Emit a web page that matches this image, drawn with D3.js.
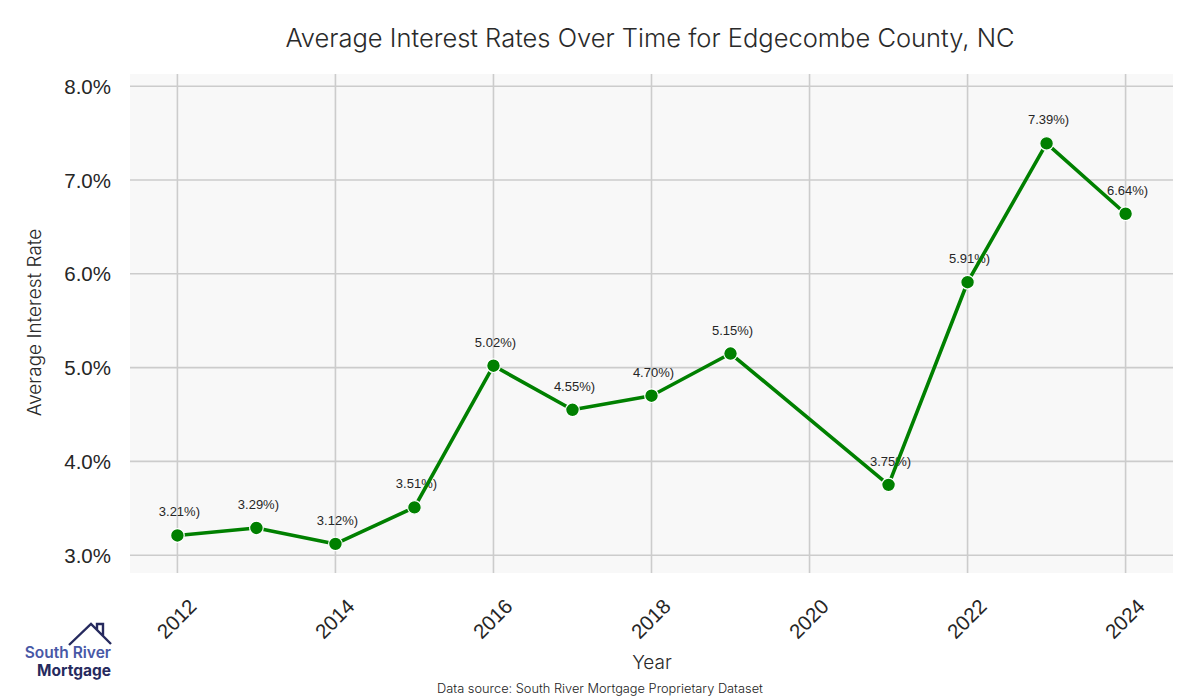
<!DOCTYPE html>
<html lang="en">
<head>
    <meta charset="UTF-8">
    <title>Average Interest Rates Over Time for Edgecombe County, NC</title>
    <script src="https://d3js.org/d3.v7.min.js"></script>
    <style>
        body { margin: 0; background: #fff; }
        svg { display: block; }
        .title { font-family: Inter, "Open Sans", sans-serif; font-size: 25.5px; font-weight: 300; fill: #2a2a2a; text-anchor: middle; }
        .axis-title { font-family: Inter, "Open Sans", sans-serif; font-size: 19px; font-weight: 300; fill: #2a2a2a; }
        .tick text { font-family: "Liberation Sans", Arial, sans-serif; font-size: 20.5px; fill: #262626; }
        .pt-label { font-family: "Liberation Sans", Arial, sans-serif; font-size: 13px; fill: #262626; text-anchor: middle; }
        .source { font-family: Inter, "Open Sans", sans-serif; font-size: 12.8px; font-weight: 300; fill: #222; text-anchor: middle; }
        .logo-text { font-family: Inter, sans-serif; font-size: 15.5px; text-anchor: end; }
    </style>
</head>
<body>
<svg id="chart" width="1200" height="700"></svg>
<script>
    // data
    const years = [2012, 2013, 2014, 2015, 2016, 2017, 2018, 2019, 2021, 2022, 2023, 2024];
    const rates = [3.21, 3.29, 3.12, 3.51, 5.02, 4.55, 4.70, 5.15, 3.75, 5.91, 7.39, 6.64];
    const yearTicks = [2012, 2014, 2016, 2018, 2020, 2022, 2024];
    const rateTicks = [3, 4, 5, 6, 7, 8];

    const data = years.map((y, i) => ({ year: y, rate: rates[i] }));

    const svg = d3.select("#chart");
    const margin = { top: 74, right: 27, bottom: 127, left: 130 };
    const width = 1200 - margin.left - margin.right;
    const height = 700 - margin.top - margin.bottom;

    const x = d3.scaleLinear().domain([2011.4, 2024.6]).range([0, width]);
    const y = d3.scaleLinear().domain([2.81, 8.13]).range([height, 0]);

    const g = svg.append("g").attr("transform", `translate(${margin.left},${margin.top})`);

    // panel background
    g.append("rect")
        .attr("width", width)
        .attr("height", height)
        .attr("fill", "#f8f8f8");

    // grid lines
    g.append("g").selectAll("line.v")
        .data(yearTicks).enter().append("line")
        .attr("x1", d => x(d)).attr("x2", d => x(d))
        .attr("y1", 0).attr("y2", height)
        .attr("stroke", "#cccccc").attr("stroke-width", 1.6);
    g.append("g").selectAll("line.h")
        .data(rateTicks).enter().append("line")
        .attr("y1", d => y(d)).attr("y2", d => y(d))
        .attr("x1", 0).attr("x2", width)
        .attr("stroke", "#cccccc").attr("stroke-width", 1.6);

    // y axis
    const yAxis = g.append("g")
        .call(d3.axisLeft(y).tickValues(rateTicks).tickFormat(d => d.toFixed(1) + "%").tickSize(0).tickPadding(19));
    yAxis.select(".domain").remove();
    yAxis.selectAll(".tick text").attr("dy", "0.35em");

    // x axis
    const xAxis = g.append("g")
        .attr("transform", `translate(0,${height})`)
        .call(d3.axisBottom(x).tickValues(yearTicks).tickFormat(d3.format("d")).tickSize(0));
    xAxis.select(".domain").remove();
    xAxis.selectAll(".tick text")
        .attr("y", 0).attr("dy", 0)
        .attr("text-anchor", "middle")
        .attr("transform", "translate(0,47) rotate(-45)")
        .attr("dominant-baseline", "middle");

    // axis titles
    svg.append("text")
        .attr("class", "axis-title")
        .attr("text-anchor", "middle")
        .attr("transform", `translate(41,${margin.top + height / 2 - 1}) rotate(-90)`)
        .text("Average Interest Rate");
    svg.append("text")
        .attr("class", "axis-title")
        .attr("text-anchor", "middle")
        .attr("x", 652).attr("y", 669)
        .text("Year");

    // title
    svg.append("text")
        .attr("class", "title")
        .attr("x", 650).attr("y", 47)
        .text("Average Interest Rates Over Time for Edgecombe County, NC");

    // value labels (drawn under the line)
    g.selectAll(".pt-label")
        .data(data).enter().append("text")
        .attr("class", "pt-label")
        .attr("x", d => x(d.year) + 2)
        .attr("y", d => y(d.rate) - 19)
        .text(d => d.rate.toFixed(2) + "%)");

    // line
    const line = d3.line().x(d => x(d.year)).y(d => y(d.rate));
    g.append("path")
        .datum(data)
        .attr("d", line)
        .attr("fill", "none")
        .attr("stroke", "#008000")
        .attr("stroke-width", 3.6)
        .attr("stroke-linejoin", "round");

    g.selectAll("circle.pt")
        .data(data).enter().append("circle")
        .attr("class", "pt")
        .attr("cx", d => x(d.year))
        .attr("cy", d => y(d.rate))
        .attr("r", 6.8)
        .attr("fill", "#008000")
        .attr("stroke", "#ffffff")
        .attr("stroke-width", 1.2);

    // footer
    svg.append("text")
        .attr("class", "source")
        .attr("x", 600).attr("y", 693)
        .text("Data source: South River Mortgage Proprietary Dataset");

    // logo
    const logo = svg.append("g");
    logo.append("path")
        .attr("d", "M69,645 L91,624 L111,644 M97,630 L97,624 L103,624 L103,636")
        .attr("fill", "none")
        .attr("stroke", "#262a5e")
        .attr("stroke-width", 2.4)
        .attr("stroke-linejoin", "miter");
    logo.append("text")
        .attr("class", "logo-text")
        .attr("x", 111).attr("y", 658)
        .attr("font-weight", 600)
        .attr("fill", "#4858a6")
        .text("South River");
    logo.append("text")
        .attr("class", "logo-text")
        .attr("x", 111).attr("y", 676)
        .attr("font-weight", 700)
        .attr("fill", "#262a5e")
        .text("Mortgage");
</script>
</body>
</html>
